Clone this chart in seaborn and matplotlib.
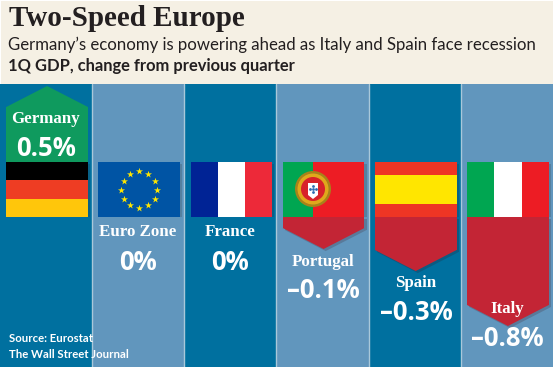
import matplotlib.pyplot as plt
import matplotlib.patheffects as pe
import numpy as np
import pandas as pd
import seaborn as sns
from matplotlib.patches import Circle, Polygon, Rectangle

countries = ["Germany", "Euro Zone", "France", "Portugal", "Spain", "Italy"]
gdp_change = [0.5, 0.0, 0.0, -0.1, -0.3, -0.8]
value_labels = ["0.5%", "0%", "0%", "\u20130.1%", "\u20130.3%", "\u20130.8%"]

title = "Two-Speed Europe"
subtitle = "Germany\u2019s economy is powering ahead as Italy and Spain face recession"
unit_line = "1Q GDP, change from previous quarter"
source_lines = ["Source: Eurostat", "The Wall Street Journal"]

W, H = 553, 369
DARK = "#00709f"
LIGHT = "#6196bd"
GREEN = "#0f9a5e"
RED = "#c32535"
CREAM = "#f5f0e4"
INK = "#231f20"
PX_PER_UNIT = 110
TIP = 21 / PX_PER_UNIT
COL_W = W / 6
BAR_W = 81.7 / COL_W

# y position in pixels of the country name and of the value label
name_y = [119, 232, 232, 262, 283, 309]
value_y = [148, 262, 262, 291, 312, 338]

sns.set_theme(style="white")
plt.rcParams["font.family"] = ["Open Sans", "DejaVu Sans"]

fig = plt.figure(figsize=(W / 100, H / 100), dpi=100, facecolor="white")


def px_axes(left, top, right, bottom):
    ax = fig.add_axes([left / W, 1 - bottom / H, (right - left) / W, (bottom - top) / H])
    ax.axis("off")
    return ax


# cream header
head = px_axes(1, 1, 553, 84)
head.set_xlim(0, 1)
head.set_ylim(0, 1)
head.add_patch(Rectangle((0, 0), 1, 1, color=CREAM, lw=0))

# column stripes
bg = px_axes(0, 84, 553, 367)
bg.set_xlim(-0.5, 5.5)
bg.set_ylim(0, 1)
for i in range(len(countries)):
    bg.axvspan(i - 0.5, i + 0.5, color=DARK if i % 2 == 0 else LIGHT, lw=0)
    if i > 0:
        bg.axvline(i - 0.5, color="#a9c8da", lw=1)

df = pd.DataFrame({"country": countries, "change": gdp_change})
shadow = [pe.SimplePatchShadow(offset=(1.5, -1.5), alpha=0.2), pe.Normal()]

# rising bars end at the top edge of the flag, falling ones at the bottom edge
ax_up = px_axes(1, 84, 554, 162)
ax_down = px_axes(1, 217, 554, 367)
for ax, lim, fill, sign in [
    (ax_up, (0, 78 / PX_PER_UNIT), GREEN, 1),
    (ax_down, (-150 / PX_PER_UNIT, 0), RED, -1),
]:
    part = df[df["change"] * sign > 0]
    sns.barplot(data=part, x="country", y="change", order=countries, color=fill,
                saturation=1, width=BAR_W, linewidth=0, ax=ax)
    if sign < 0:
        for bar in ax.patches:
            bar.set_path_effects(shadow)
    for i, v in enumerate(gdp_change):
        if v * sign > 0:
            half = BAR_W / 2
            tip = Polygon([(i - half, v), (i + half, v), (i, v + sign * TIP)],
                          closed=True, color=fill, lw=0)
            if sign < 0:
                tip.set_path_effects(shadow)
            ax.add_patch(tip)
    ax.set_xlim(-0.5, 5.5)
    ax.set_ylim(*lim)
    ax.axis("off")

# flags: vertical or horizontal bands, as (start, end, colour) in fractions
flags = {
    "Germany": ("h", [(0.667, 1, "#000000"), (0.333, 0.667, "#ee3d23"), (0, 0.333, "#ffc60b")]),
    "Euro Zone": ("h", [(0, 1, "#0054a4")]),
    "France": ("v", [(0, 0.333, "#002395"), (0.333, 0.667, "#ffffff"), (0.667, 1, "#ed2939")]),
    "Portugal": ("v", [(0, 0.367, "#00a651"), (0.367, 1, "#ed1c24")]),
    "Spain": ("h", [(0.76, 1, "#ee3524"), (0.24, 0.76, "#ffe600"), (0, 0.24, "#ee3524")]),
    "Italy": ("v", [(0, 0.333, "#00a651"), (0.333, 0.667, "#ffffff"), (0.667, 1, "#ed1c24")]),
}
ax_flag = px_axes(1, 162, 554, 217)
ax_flag.set_xlim(-0.5, 5.5)
ax_flag.set_ylim(0, 1)
for i, c in enumerate(countries):
    left = i - BAR_W / 2
    ax_flag.add_patch(Rectangle((left, 0), BAR_W, 1, color="#888888", lw=0, path_effects=shadow))
    kind, bands = flags[c]
    for a, b, col in bands:
        if kind == "h":
            r = Rectangle((left, a), BAR_W, b - a, color=col, lw=0)
        else:
            r = Rectangle((left + a * BAR_W, 0), (b - a) * BAR_W, 1, color=col, lw=0)
        ax_flag.add_patch(r)

# EU stars, 18 px ring
angles = np.deg2rad(np.arange(0, 360, 30))
ax_flag.scatter(1 + 18 / COL_W * np.cos(angles), 0.5 + 18 / 55 * np.sin(angles),
                marker="*", s=28, color="#ffe600", linewidths=0, zorder=5)

# Portuguese arms, drawn in pixel units so the rings stay round
arms = fig.add_axes([0, 0, 1, 1])
arms.axis("off")
arms.set_xlim(0, W)
arms.set_ylim(H, 0)
for r, col in [(18, "#a8821a"), (15.5, "#e0a81c"), (12, "#d8232a")]:
    arms.add_patch(Circle((313, 189), r, color=col, lw=0))
arms.add_patch(Rectangle((308, 183), 10, 12, color="#ffffff", lw=0))
arms.add_patch(Polygon([(308, 195), (318, 195), (313, 199)], color="#ffffff", lw=0))
arms.scatter([313, 310, 316, 313, 313], [189, 189, 189, 186, 192], s=4, color="#2a6ab0", linewidths=0)

# text
fig.text(9 / W, 1 - 18 / H, title, family="Liberation Serif", weight="bold", size=21,
         color=INK, va="center", ha="left")
fig.text(8.5 / W, 1 - 45 / H, subtitle, family="Lato", size=12.05, color=INK, va="center", ha="left")
fig.text(8.5 / W, 1 - 66 / H, unit_line, family="Lato", size=11.9, weight="bold", color=INK,
         va="center", ha="left")

centers = [46, 138, 230, 323, 416, 507]
for i, c in enumerate(countries):
    fig.text(centers[i] / W, 1 - name_y[i] / H, c, family="Liberation Serif", weight="bold",
             size=12.2, color="white", ha="center", va="center")
    fig.text(centers[i] / W, 1 - value_y[i] / H, value_labels[i], weight="bold",
             size=18.5, color="white", ha="center", va="center")

for y, line in zip([338, 354], source_lines):
    fig.text(9 / W, 1 - y / H, line, family="Lato", weight="bold", size=8.2, color="white",
             ha="left", va="center")

fig.savefig("out.png", dpi=100)
